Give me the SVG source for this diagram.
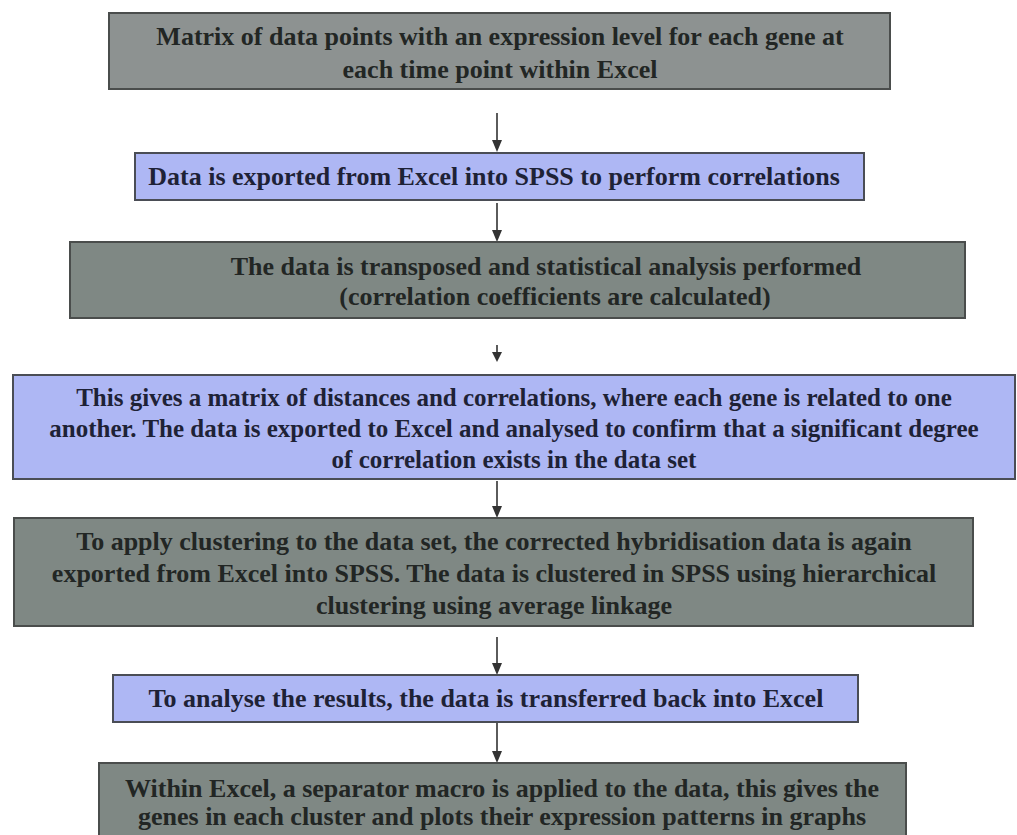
<svg xmlns="http://www.w3.org/2000/svg" width="1017" height="835" viewBox="0 0 1017 835">
<style>
.g{fill:#8d9291;stroke:#4a4d4c;stroke-width:2}
.g2{fill:#7f8884;stroke:#4a4d4c;stroke-width:2}
.b{fill:#aeb7f4;stroke:#4a4d55;stroke-width:2}
text{font-family:"Liberation Serif","Times New Roman",serif;font-weight:bold;font-size:26px;text-anchor:middle}
.tg{fill:#222624}
.tb{fill:#1e2236}
.s{font-size:25px}
.c{stroke:#333;stroke-width:1.6;fill:none}
.h{fill:#333}
</style>
<rect width="1017" height="835" fill="#ffffff"/>
<g id="connectors">
<line class="c" x1="497" y1="113" x2="497" y2="141"/><path class="h" d="M492,140 L502,140 L497,152 Z"/>
<line class="c" x1="497" y1="203" x2="497" y2="231"/><path class="h" d="M492,230 L502,230 L497,242 Z"/>
<line class="c" x1="497" y1="345" x2="497" y2="353"/><path class="h" d="M492,352 L502,352 L497,362 Z"/>
<line class="c" x1="497" y1="481" x2="497" y2="507"/><path class="h" d="M492,506 L502,506 L497,518 Z"/>
<line class="c" x1="497" y1="637" x2="497" y2="664"/><path class="h" d="M492,663 L502,663 L497,675 Z"/>
<line class="c" x1="497" y1="722" x2="497" y2="752"/><path class="h" d="M492,751 L502,751 L497,763 Z"/>
</g>
<g id="n1">
<rect class="g" x="109" y="13" width="781" height="76"/>
<text class="tg" x="500" y="45">Matrix of data points with an expression level for each gene at</text>
<text class="tg" x="500" y="78">each time point within Excel</text>
</g>
<g id="n2">
<rect class="b" x="135" y="153" width="729" height="47"/>
<text class="tb" x="494" y="185">Data is exported from Excel into SPSS to perform correlations</text>
</g>
<g id="n3">
<rect class="g2" x="70" y="242" width="895" height="76"/>
<text class="tg" x="546" y="275">The data is transposed  and statistical analysis performed</text>
<text class="tg" x="555" y="305">(correlation coefficients are calculated)</text>
</g>
<g id="n4">
<rect class="b" x="13" y="375" width="1002" height="104"/>
<text class="tb s" x="514" y="406">This gives a matrix of distances and correlations, where each gene is related to one</text>
<text class="tb s" x="514" y="437">another. The data is exported to Excel and analysed to confirm that a significant  degree</text>
<text class="tb s" x="514" y="468">of correlation exists in the data set</text>
</g>
<g id="n5">
<rect class="g2" x="14" y="518" width="959" height="108"/>
<text class="tg" x="494" y="550">To apply clustering to the data set, the corrected hybridisation data is again</text>
<text class="tg" x="494" y="582">exported from Excel into SPSS. The data is clustered in SPSS using hierarchical</text>
<text class="tg" x="494" y="614">clustering using average linkage</text>
</g>
<g id="n6">
<rect class="b" x="113" y="675" width="745" height="47"/>
<text class="tb" x="486" y="707">To analyse the results, the data is transferred back into Excel</text>
</g>
<g id="n7">
<rect class="g2" x="99" y="763" width="807" height="90"/>
<text class="tg" x="502" y="797">Within Excel, a separator macro is applied to the data, this gives the</text>
<text class="tg" x="502" y="825">genes in each cluster and plots their expression patterns in graphs</text>
</g>
</svg>
